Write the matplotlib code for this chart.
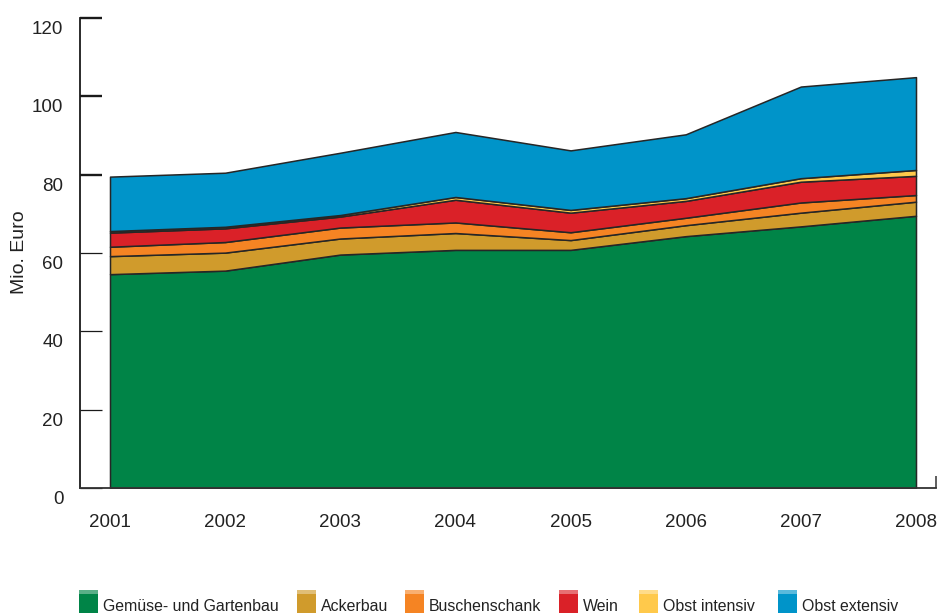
import matplotlib
matplotlib.use('Agg')
import matplotlib.pyplot as plt
import matplotlib.transforms as mtransforms
from matplotlib.patches import Rectangle
import numpy as np

plt.rcParams['font.family'] = ['Liberation Sans', 'DejaVu Sans']

years = [2001, 2002, 2003, 2004, 2005, 2006, 2007, 2008]

# Mio. Euro per sector
gemuese = [54.6, 55.5, 59.6, 60.8, 60.8, 64.3, 66.8, 69.5]
ackerbau = [4.6, 4.6, 4.1, 4.3, 2.5, 2.8, 3.5, 3.6]
buschenschank = [2.4, 2.7, 2.8, 2.7, 2.0, 1.9, 2.6, 1.7]
wein = [3.6, 3.5, 2.8, 5.8, 5.0, 4.3, 5.3, 4.9]
obst_intensiv = [0.4, 0.4, 0.4, 0.7, 0.7, 0.7, 0.9, 1.5]
obst_extensiv = [13.9, 13.8, 15.9, 16.6, 15.2, 16.3, 23.4, 23.7]

labels = ['Gemüse- und Gartenbau', 'Ackerbau', 'Buschenschank', 'Wein',
          'Obst intensiv', 'Obst extensiv']
colors = ['#008447', '#D09B2C', '#F58423', '#DA2128', '#FFC94B', '#0094C9']

yticks = [0, 20, 40, 60, 80, 100, 120]

W, H = 938, 613
fig = plt.figure(figsize=(W / 100, H / 100), dpi=100)
ax = fig.add_axes([80 / W, (H - 488) / H, (936 - 80) / W, (488 - 18) / H])

ax.stackplot(years, gemuese, ackerbau, buschenschank, wein, obst_intensiv,
             obst_extensiv, colors=colors, edgecolor='#262626', linewidth=1.1)

px_per_year = (916 - 110) / 7
ax.set_xlim(2001 - 30 / px_per_year, 2008 + 20 / px_per_year)
ax.set_ylim(0, 120)

ax.spines['top'].set_visible(False)
ax.spines['right'].set_visible(False)
ax.spines['left'].set_linewidth(1.3)
ax.spines['left'].set_color('#1a1a1a')
ax.spines['bottom'].set_linewidth(1.3)
ax.spines['bottom'].set_color('#333333')

ax.set_xticks(years)
ax.set_xticklabels([str(y) for y in years], fontsize=13.5, color='#222222')
ax.tick_params(axis='x', which='major', length=0, pad=19)
ax.set_xticks([ax.get_xlim()[1]], minor=True)
ax.tick_params(axis='x', which='minor', direction='in', length=9, width=1.1,
               color='#333333')

ax.set_yticks(yticks)
ax.set_yticklabels([str(v) for v in yticks], fontsize=13.5, color='#222222')
ax.tick_params(axis='y', direction='in', length=16, width=0.9, pad=12,
               color='#1a1a1a')
for t in ax.yaxis.get_major_ticks():
    if t.get_loc() >= 80:
        t.tick1line.set_markeredgewidth(1.7)
offset = mtransforms.ScaledTranslation(0, -9.5 / 100, fig.dpi_scale_trans)
for lbl in ax.get_yticklabels():
    lbl.set_transform(lbl.get_transform() + offset)

fig.text(20 / W, 1 - 252 / H, 'Mio. Euro', rotation=90, ha='center',
         va='center', fontsize=14, color='#222222')

# legend: boxes with a lighter top face, along the bottom edge
legend_x = [79, 297, 405, 559, 639, 778]
for x0, lab, col in zip(legend_x, labels, colors):
    rgb = np.array(matplotlib.colors.to_rgb(col))
    light = rgb + (1 - rgb) * 0.35
    fig.add_artist(Rectangle((x0 / W, 1 - 615 / H), 19 / W, 21 / H,
                             transform=fig.transFigure, facecolor=col,
                             edgecolor='none'))
    fig.add_artist(Rectangle((x0 / W, 1 - 594 / H), 19 / W, 4 / H,
                             transform=fig.transFigure, facecolor=light,
                             edgecolor='none'))
    fig.text((x0 + 24) / W, 1 - 611 / H, lab, ha='left', va='baseline',
             fontsize=11.4, color='#222222')

fig.savefig('out.png', dpi=100)
